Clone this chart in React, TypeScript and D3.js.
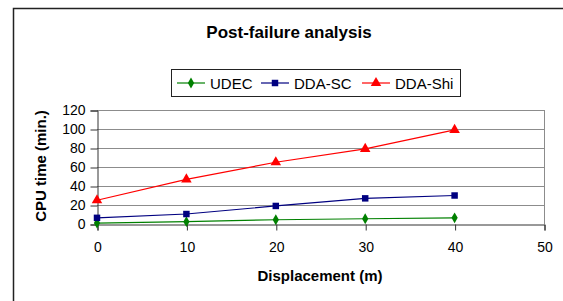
import React, { useEffect, useRef } from "react"
import * as d3 from "d3"

const displacement = [0, 10, 20, 30, 40]
const udec = [1, 2.5, 4.5, 5.5, 6.5]
const ddaSC = [6.5, 10.5, 19, 27, 30]
const ddaShi = [25, 47, 65, 79, 99]
const xTicks = [0, 10, 20, 30, 40, 50]
const yTicks = [0, 20, 40, 60, 80, 100, 120]

const series = [
  { name: "UDEC", values: udec, color: "#008000", marker: "diamond" },
  { name: "DDA-SC", values: ddaSC, color: "#000080", marker: "square" },
  { name: "DDA-Shi", values: ddaShi, color: "#ff0000", marker: "triangle" },
]

const font = "'Liberation Sans', Arial, sans-serif"

export default function App() {
  const ref = useRef<SVGSVGElement>(null)

  useEffect(() => {
    const svg = d3.select(ref.current)
    svg.selectAll("*").remove()

    const left = 97, right = 544, top = 110, bottom = 224

    const x = d3.scaleLinear().domain([0, 50]).range([left, right])
    const y = d3.scaleLinear().domain([0, 120]).range([bottom, top])

    // outer chart frame (runs off the right / bottom of the picture)
    svg.append("rect")
      .attr("x", 13.5).attr("y", 8.5)
      .attr("width", 700).attr("height", 400)
      .attr("fill", "white")
      .attr("stroke", "#222").attr("stroke-width", 1.5)

    svg.append("text")
      .attr("x", 289).attr("y", 38)
      .attr("text-anchor", "middle")
      .attr("font-family", font).attr("font-weight", "bold").attr("font-size", 17)
      .text("Post-failure analysis")

    // gridlines
    svg.append("g").selectAll("line")
      .data(yTicks.filter(d => d > 0))
      .enter().append("line")
      .attr("x1", left).attr("x2", right)
      .attr("y1", d => y(d) + 0.5).attr("y2", d => y(d) + 0.5)
      .attr("stroke", "#8c8c8c").attr("stroke-width", 1)

    svg.append("line")
      .attr("x1", right + 0.5).attr("x2", right + 0.5)
      .attr("y1", top).attr("y2", bottom)
      .attr("stroke", "#8c8c8c")

    const yAxis = svg.append("g")
      .attr("transform", `translate(${left + 0.5},0.5)`)
      .call(d3.axisLeft(y).tickValues(yTicks).tickSize(7).tickPadding(5))
    const xAxis = svg.append("g")
      .attr("transform", `translate(0.5,${bottom + 0.5})`)
      .call(d3.axisBottom(x).tickValues(xTicks).tickSize(6).tickPadding(12))
    for (const ax of [yAxis, xAxis]) {
      ax.select(".domain").attr("stroke", "#333")
      ax.selectAll(".tick line").attr("stroke", "#333")
      ax.selectAll("text")
        .attr("fill", "#000")
        .attr("font-family", font).attr("font-size", 14)
    }

    svg.append("text")
      .attr("x", 320).attr("y", 281)
      .attr("text-anchor", "middle")
      .attr("font-family", font).attr("font-weight", "bold").attr("font-size", 15)
      .text("Displacement (m)")

    svg.append("text")
      .attr("transform", "translate(46,166) rotate(-90)")
      .attr("text-anchor", "middle")
      .attr("font-family", font).attr("font-weight", "bold").attr("font-size", 15)
      .text("CPU time (min.)")

    const markerPath = (type: string) => {
      if (type === "diamond") return d3.symbol(d3.symbolDiamond, 34)()
      if (type === "square") return d3.symbol(d3.symbolSquare, 42)()
      return d3.symbol(d3.symbolTriangle, 48)()
    }

    const line = d3.line<number>()
      .x((d, i) => x(displacement[i]))
      .y(d => y(d))

    series.forEach(s => {
      svg.append("path")
        .datum(s.values)
        .attr("d", line)
        .attr("fill", "none")
        .attr("stroke", s.color)
        .attr("stroke-width", 1.2)
      svg.append("g").selectAll("path")
        .data(s.values)
        .enter().append("path")
        .attr("transform", (d, i) => `translate(${x(displacement[i])},${y(d)})`)
        .attr("d", markerPath(s.marker))
        .attr("fill", s.color)
    })

    // legend
    const legend = svg.append("g")
    legend.append("rect")
      .attr("x", 171.5).attr("y", 69.5)
      .attr("width", 289).attr("height", 27)
      .attr("fill", "white").attr("stroke", "#222").attr("stroke-width", 1)
    const legendX = [177, 261, 362]
    series.forEach((s, i) => {
      const lx = legendX[i]
      legend.append("line")
        .attr("x1", lx).attr("x2", lx + 28)
        .attr("y1", 83).attr("y2", 83)
        .attr("stroke", s.color).attr("stroke-width", 1.2)
      legend.append("path")
        .attr("transform", `translate(${lx + 14},83)`)
        .attr("d", markerPath(s.marker))
        .attr("fill", s.color)
      legend.append("text")
        .attr("x", lx + 33).attr("y", 88.5)
        .attr("font-family", font).attr("font-size", 15)
        .text(s.name)
    })
  }, [])

  return (
    <svg ref={ref} width={563} height={301}
      style={{ position: "absolute", left: 0, top: 0, background: "white" }} />
  )
}
